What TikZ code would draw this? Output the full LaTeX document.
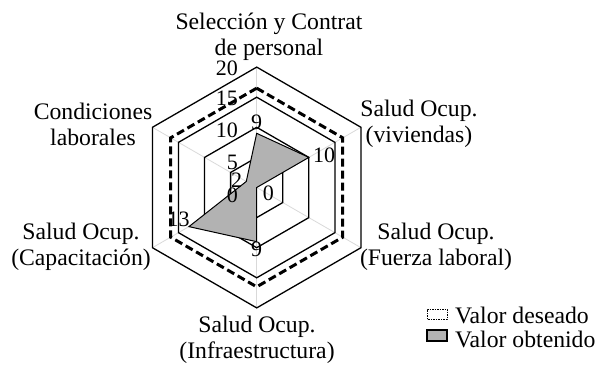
\documentclass[tikz,border=0pt]{standalone}
\usepackage{fontspec}
\setmainfont{Liberation Serif}
\usepackage{tikz}

\tikzset{
  categoria/.style={font=\fontsize{23.7bp}{26bp}\selectfont, align=center, inner sep=0pt},
  numero/.style={font=\fontsize{22bp}{24bp}\selectfont, inner sep=0pt},
  eje/.style={draw=gray!30, line width=0.8bp},
  anillo/.style={draw=black, line width=1.3bp, line join=miter},
  deseado/.style={draw=black, line width=3bp, dash pattern=on 8bp off 4bp},
  obtenido/.style={fill=gray!60, draw=black, line width=1bp, line join=miter},
}

\begin{document}
\begin{tikzpicture}[x=1bp,y=1bp]
\pgfmathsetmacro{\cx}{256.7} % centro x
\pgfmathsetmacro{\cy}{176.5} % centro y
\pgfmathsetmacro{\u}{6.02} % bp por unidad
\pgfmathsetmacro{\des}{16.5} % valor deseado
\useasboundingbox (0,0) rectangle (613,364);

\begin{scope}[shift={(\cx bp,\cy bp)}, x=\u bp, y=\u bp]
\coordinate (O) at (0,0);
% ejes radiales
\foreach \ang in {90,30,-30,-90,-150,150}
  \draw[eje] (O) -- (\ang:20);
% anillos 5, 10, 15, 20
\foreach \v in {5,10,15,20}
  \draw[anillo] (90:\v) -- (30:\v) -- (-30:\v) -- (-90:\v) -- (-150:\v) -- (150:\v) -- cycle;
% valor deseado
\draw[deseado] (90:\des) -- (30:\des) -- (-30:\des) -- (-90:\des) -- (-150:\des) -- (150:\des) -- cycle;
% valor obtenido
\coordinate (sel) at (90:9);
\coordinate (viv) at (30:10);
\coordinate (fue) at (-30:0);
\coordinate (inf) at (-90:9);
\coordinate (cap) at (-150:13);
\coordinate (con) at (150:2);
\draw[obtenido] (sel) -- (viv) -- (fue) -- (inf) -- (cap) -- (con) -- cycle;
\end{scope}

% etiquetas de los datos
\node[numero, above=3bp] (nsel) at (sel) {9};
\node[numero, right=4bp, yshift=2bp] (nviv) at (viv) {10};
\node[numero, anchor=west, xshift=6bp, yshift=-5.5bp] (nfue) at (fue) {0};
\node[numero, below=0bp] (ninf) at (inf) {9};
\node[numero, anchor=south east, xshift=1bp] (ncap) at (cap) {13};
\node[numero, left=4bp, yshift=1.5bp] (ncon) at (con) {2};

% escala del eje
\foreach \v/\yy in {0/169,5/202,10/234,15/266,20/296}
  \node[numero, anchor=east] (esc\v) at (238,\yy) {\v};

% categorias
\node[categoria] (tsel) at (269,327.5) {Selecci\'on y Contrat\\de personal};
\node[categoria] (tviv) at (419,240) {Salud Ocup.\\(viviendas)};
\node[categoria] (tfue) at (436,117) {Salud Ocup.\\(Fuerza laboral)};
\node[categoria] (tinf) at (257,24) {Salud Ocup.\\(Infraestructura)};
\node[categoria] (tcap) at (81,117) {Salud Ocup.\\(Capacitaci\'on)};
\node[categoria] (tcon) at (93,240) {Condiciones\\laborales};

% leyenda
\draw[line width=0.8bp, dash pattern=on 1.5bp off 1bp] (427,45) rectangle (447,55);
\draw[fill=gray!60, line width=1.2bp] (427,23) rectangle (447,34);
\node[categoria, anchor=base west] (ldes) at (455,41) {Valor deseado};
\node[categoria, anchor=base west] (lobt) at (455,17) {Valor obtenido};
\end{tikzpicture}
\end{document}
